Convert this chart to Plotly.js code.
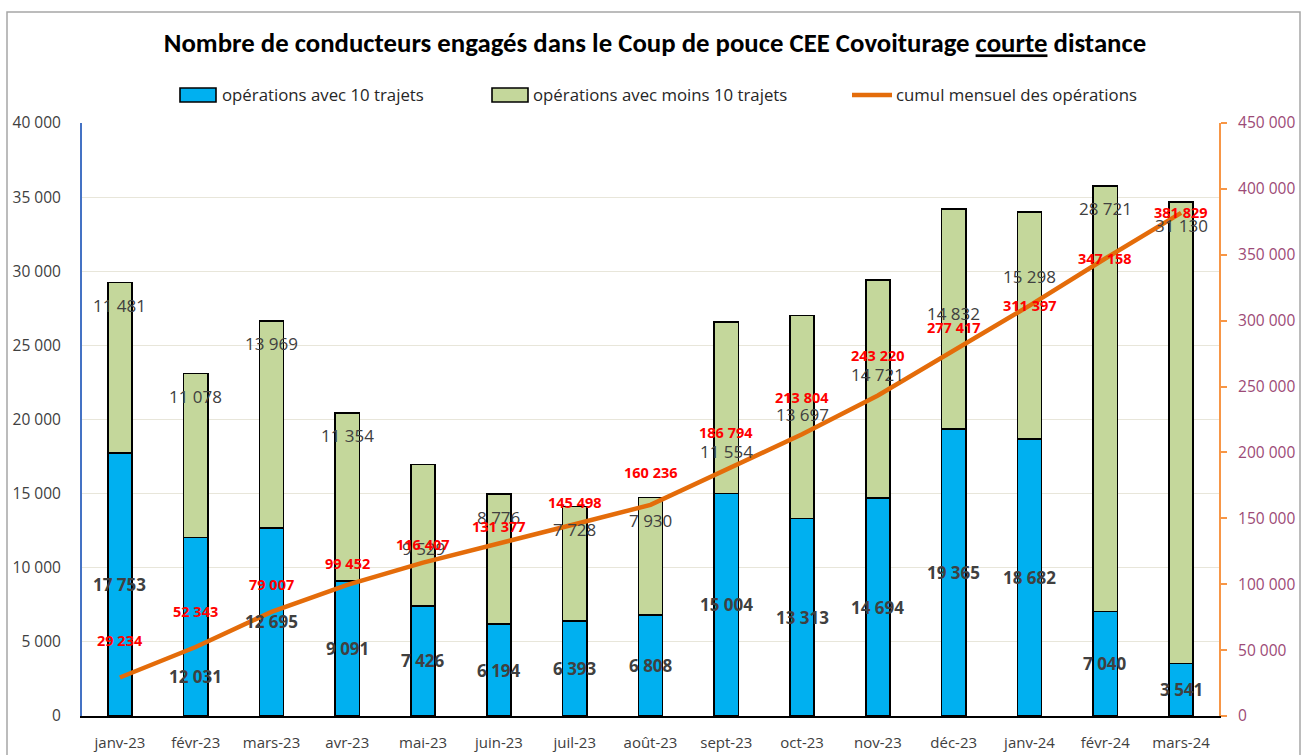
<!DOCTYPE html>
<html><head><meta charset="utf-8">
<script src="https://cdn.plot.ly/plotly-3.0.1.min.js"></script>
<style>html,body{margin:0;padding:0;background:#fff;overflow:hidden}#chart{width:1302px;height:755px}</style>
</head><body><div id="chart"></div>
<script>
const months = ['janv-23','févr-23','mars-23','avr-23','mai-23','juin-23','juil-23','août-23','sept-23','oct-23','nov-23','déc-23','janv-24','févr-24','mars-24'];
const ops10 = [17753,12031,12695,9091,7426,6194,6393,6808,15004,13313,14694,19365,18682,7040,3541];
const opsMoins10 = [11481,11078,13969,11354,9529,8776,7728,7930,11554,13697,14721,14832,15298,28721,31130];
const cumul = [29234,52343,79007,99452,116407,131377,145498,160236,186794,213804,243220,277417,311397,347158,381829];
const seriesNames = ['opérations avec 10 trajets','opérations avec moins 10 trajets','cumul mensuel des opérations'];
const titleText = 'Nombre de conducteurs engagés dans le Coup de pouce CEE Covoiturage <u>courte</u> distance';

// style: manual label nudges in pixels (as hand-placed labels in the original)
const labelNudge = {
  'janv-23': {red:10},
  'févr-23': {blue:-50, red:9},
  'avr-23': {red:-6},
  'mai-23': {green:-61, red:-9},
  'juin-23': {red:-11},
  'juil-23': {red:-5},
  'août-23': {red:5},
  'sept-23': {green:-106, red:10},
  'oct-23': {green:-76, red:10},
  'nov-23': {green:-72, red:13},
  'déc-23': {green:-81, red:-4},
  'janv-24': {green:-41, red:-27},
  'févr-24': {red:-27},
  'mars-24': {red:-27}
};

const L=82, R=1219, T=123, B=716;
const px2x = p => (p-L)/(R-L);
const px2y = p => (B-p)/(B-T);
const fmt = v => String(v).replace(/\B(?=(\d{3})+(?!\d))/g,' ');
const FONT = '"Open Sans", "DejaVu Sans", sans-serif';
const TITLEFONT = 'Carlito, "Liberation Sans Narrow", "Open Sans", sans-serif';

const traces = [
  {type:'bar', name:seriesNames[0], x:months, y:ops10,
   marker:{color:'#00B0F0', line:{color:'#000', width:1.6}}, hoverinfo:'x+y'},
  {type:'bar', name:seriesNames[1], x:months, y:opsMoins10,
   marker:{color:'#C4D79B', line:{color:'#000', width:1.6}}, hoverinfo:'x+y'},
  {type:'scatter', mode:'lines', name:seriesNames[2], x:months, y:cumul, yaxis:'y2',
   line:{color:'#E46C0A', width:4.5}, hoverinfo:'x+y'}
];

const ann = [];
months.forEach((m,i)=>{
  const n = labelNudge[m] || {};
  ann.push({xref:'x', yref:'y', x:m, y:ops10[i]/2, yshift:(n.blue||0), text:fmt(ops10[i]), showarrow:false,
    font:{family:FONT, size:17, color:'#404040', weight:'bold'}, yanchor:'middle'});
  ann.push({xref:'x', yref:'y', x:m, y:ops10[i]+opsMoins10[i], yshift:-23+(n.green||0), text:fmt(opsMoins10[i]), showarrow:false,
    font:{family:FONT, size:17, color:'#404040'}, yanchor:'middle'});
  ann.push({xref:'x', yref:'y2', x:m, y:cumul[i], yshift:27+(n.red||0), text:fmt(cumul[i]), showarrow:false,
    font:{family:FONT, size:14.5, color:'#FF0000', weight:'bold'}, yanchor:'middle'});
});
// custom legend
const legX = [[180,216,220],[492,528,531],[852,892,894]];
const legY = 95;
legX.forEach((l,i)=>{
  ann.push({xref:'paper', yref:'paper', x:px2x(l[2]), y:px2y(legY), xanchor:'left', yanchor:'middle',
    text:seriesNames[i], showarrow:false, font:{family:FONT, size:16.8, color:'#262626'}});
});
const shapes = [
  {type:'rect', xref:'paper', yref:'paper', x0:px2x(7), x1:px2x(1300), y0:px2y(770), y1:px2y(12),
   line:{color:'#A6A6A6', width:1.5}, fillcolor:'rgba(0,0,0,0)', layer:'below'},
  {type:'rect', xref:'paper', yref:'paper', x0:px2x(legX[0][0]), x1:px2x(legX[0][1]), y0:px2y(legY+7), y1:px2y(legY-7),
   line:{color:'#000', width:1.6}, fillcolor:'#00B0F0'},
  {type:'rect', xref:'paper', yref:'paper', x0:px2x(legX[1][0]), x1:px2x(legX[1][1]), y0:px2y(legY+7), y1:px2y(legY-7),
   line:{color:'#000', width:1.6}, fillcolor:'#C4D79B'},
  {type:'line', xref:'paper', yref:'paper', x0:px2x(legX[2][0]), x1:px2x(legX[2][1]), y0:px2y(legY), y1:px2y(legY),
   line:{color:'#E46C0A', width:4.5}}
];

const layout = {
  width:1302, height:755, autosize:false,
  margin:{l:L, r:1302-R, t:T, b:755-B, pad:0},
  paper_bgcolor:'#fff', plot_bgcolor:'#fff',
  barmode:'stack', bargap:0.68, showlegend:false, separators:', ',
  font:{family:FONT, color:'#404040'},
  title:{text:titleText, x:655/1302, xref:'container', xanchor:'center', y:1-43/755, yref:'container', yanchor:'middle',
    font:{family:TITLEFONT, size:26.8, color:'#000', weight:'bold'}},
  xaxis:{type:'category', range:[-0.5,14.5], showline:true, linecolor:'#000', linewidth:1.5, ticks:'',
    showgrid:false, zeroline:false, tickfont:{family:FONT, size:15, color:'#404040'}, ticklabelstandoff:12},
  yaxis:{range:[0,40000], dtick:5000, tickformat:',d', showgrid:true, gridcolor:'#E8E6DA', gridwidth:1,
    showline:true, linecolor:'#4472C4', linewidth:2, zeroline:false, ticks:'',
    tickfont:{family:FONT, size:15.5, color:'#404040'}, ticklabelstandoff:16},
  yaxis2:{overlaying:'y', side:'right', range:[0,450000], dtick:50000, tickformat:',d', showgrid:false,
    showline:true, linecolor:'#F79646', linewidth:2, zeroline:false, ticks:'outside', ticklen:6, tickwidth:2, tickcolor:'#F79646',
    tickfont:{family:FONT, size:15.5, color:'#9C4A76'}, ticklabelstandoff:8},
  annotations:ann, shapes:shapes
};
Plotly.newPlot('chart', traces, layout, {staticPlot:true});
</script></body></html>
